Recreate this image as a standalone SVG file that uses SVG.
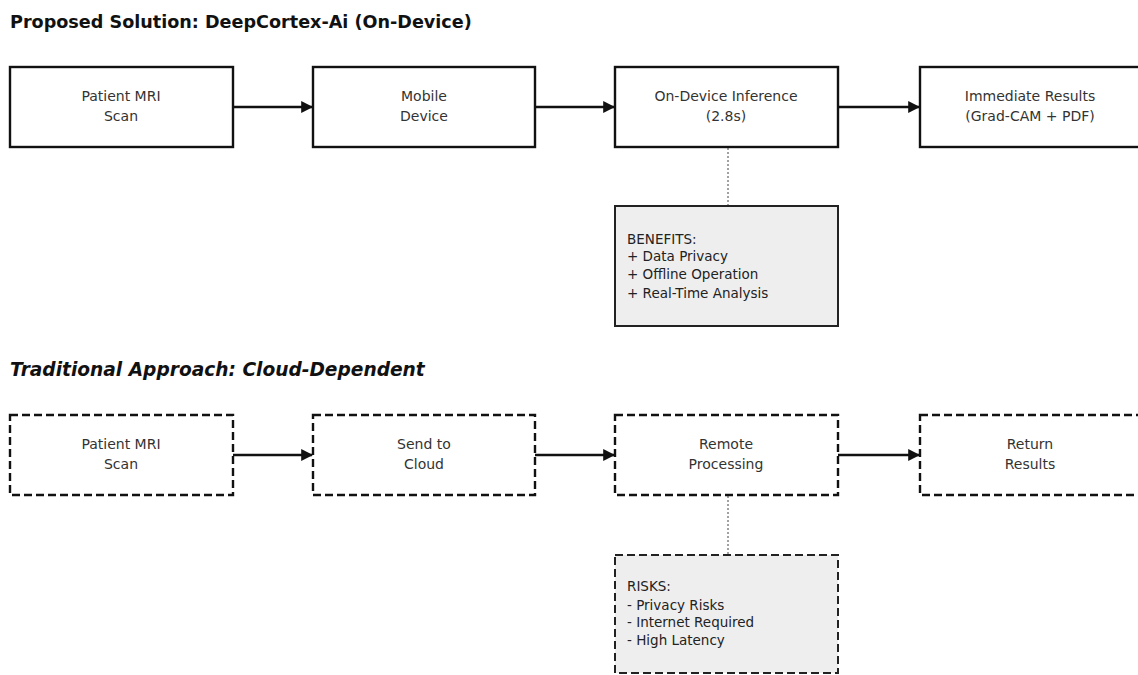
<svg xmlns="http://www.w3.org/2000/svg" width="1138" height="675" viewBox="0 0 1138 675">
<defs>
<style>
.title{font-family:"DejaVu Sans",sans-serif;font-size:17.6px;font-weight:bold;fill:#111}
.ital{font-style:italic;font-size:18.6px}
.lbl{font-family:"DejaVu Sans",sans-serif;font-size:14px;fill:#333;text-anchor:middle}
.note{font-family:"DejaVu Sans",sans-serif;font-size:13.5px;fill:#222}
.box{fill:#fff;stroke:#111;stroke-width:2.4}
.dash{stroke-dasharray:8,4}
.nbox{fill:#eeeeee;stroke:#222;stroke-width:2}
.arr{stroke:#111;stroke-width:2.4;fill:none;marker-end:url(#ah)}
.dot{stroke:#444;stroke-width:1;stroke-dasharray:2,2;fill:none}
</style>
<marker id="ah" viewBox="0 0 10 10" refX="9" refY="5" markerWidth="5" markerHeight="5" orient="auto" markerUnits="strokeWidth">
<path d="M0,0 L10,5 L0,10 z" fill="#111"/>
</marker>
</defs>
<rect width="1138" height="675" fill="#fff"/>
<text class="title" x="10" y="28">Proposed Solution: DeepCortex-Ai (On-Device)</text>
<text class="title ital" x="10" y="376">Traditional Approach: Cloud-Dependent</text>

<g id="connectors">
<line class="arr" x1="233" y1="107" x2="312" y2="107"/>
<line class="arr" x1="535" y1="107" x2="614" y2="107"/>
<line class="arr" x1="838" y1="107" x2="919" y2="107"/>
<line class="dot" x1="728" y1="148" x2="728" y2="206"/>
<line class="arr" x1="233" y1="455" x2="312" y2="455"/>
<line class="arr" x1="535" y1="455" x2="614" y2="455"/>
<line class="arr" x1="838" y1="455" x2="919" y2="455"/>
<line class="dot" x1="728" y1="496" x2="728" y2="555"/>
</g>

<g id="p1"><rect class="box" x="10" y="67" width="223" height="80"/><text class="lbl" x="121" y="101">Patient MRI</text><text class="lbl" x="121" y="121">Scan</text></g>
<g id="p2"><rect class="box" x="313" y="67" width="222" height="80"/><text class="lbl" x="424" y="101">Mobile</text><text class="lbl" x="424" y="121">Device</text></g>
<g id="p3"><rect class="box" x="615" y="67" width="223" height="80"/><text class="lbl" x="726" y="101">On-Device Inference</text><text class="lbl" x="726" y="121">(2.8s)</text></g>
<g id="p4"><rect class="box" x="920" y="67" width="223" height="80"/><text class="lbl" x="1030" y="101">Immediate Results</text><text class="lbl" x="1030" y="121">(Grad-CAM + PDF)</text></g>
<g id="benefits"><rect class="nbox" x="615" y="206" width="223" height="120"/>
<text class="note" x="627" y="244">BENEFITS:</text>
<text class="note" x="627" y="261">+ Data Privacy</text>
<text class="note" x="627" y="279">+ Offline Operation</text>
<text class="note" x="627" y="298">+ Real-Time Analysis</text></g>

<g id="t1"><rect class="box dash" x="10" y="415" width="223" height="80"/><text class="lbl" x="121" y="449">Patient MRI</text><text class="lbl" x="121" y="469">Scan</text></g>
<g id="t2"><rect class="box dash" x="313" y="415" width="222" height="80"/><text class="lbl" x="424" y="449">Send to</text><text class="lbl" x="424" y="469">Cloud</text></g>
<g id="t3"><rect class="box dash" x="615" y="415" width="223" height="80"/><text class="lbl" x="726" y="449">Remote</text><text class="lbl" x="726" y="469">Processing</text></g>
<g id="t4"><rect class="box dash" x="920" y="415" width="223" height="80"/><text class="lbl" x="1030" y="449">Return</text><text class="lbl" x="1030" y="469">Results</text></g>
<g id="risks"><rect class="nbox dash" x="615" y="555" width="223" height="118"/>
<text class="note" x="627" y="591">RISKS:</text>
<text class="note" x="627" y="610">- Privacy Risks</text>
<text class="note" x="627" y="627">- Internet Required</text>
<text class="note" x="627" y="645">- High Latency</text></g>
</svg>
